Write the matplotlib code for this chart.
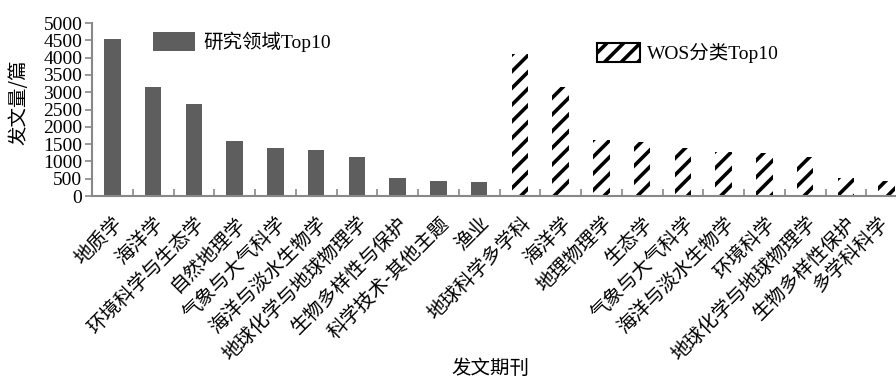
import numpy as np
import matplotlib
matplotlib.use('Agg')
import matplotlib.pyplot as plt
import matplotlib.transforms as mtransforms
from matplotlib.patches import Patch

plt.rcParams['font.family'] = ['Liberation Serif', 'Noto Sans CJK SC']
plt.rcParams['hatch.linewidth'] = 2.6
plt.rcParams['axes.unicode_minus'] = False

# 研究领域 Top10
field_names = ['地质学', '海洋学', '环境科学与生态学', '自然地理学', '气象与大气科学',
               '海洋与淡水生物学', '地球化学与地球物理学', '生物多样性与保护',
               '科学技术-其他主题', '渔业']
field_counts = [4530, 3140, 2660, 1600, 1380, 1340, 1130, 530, 440, 410]

# WOS 分类 Top10
wos_names = ['地球科学多学科', '海洋学', '地理物理学', '生态学', '气象与大气科学',
             '海洋与淡水生物学', '环境科学', '地球化学与地球物理学', '生物多样性保护',
             '多学科科学']
wos_counts = [4100, 3140, 1610, 1550, 1380, 1260, 1230, 1130, 510, 440]

yticks = [0, 500, 1000, 1500, 2000, 2500, 3000, 3500, 4000, 4500, 5000]

W, H = 896, 380
fig = plt.figure(figsize=(W / 100, H / 100), dpi=100)
ax = fig.add_axes([92 / W, 1 - 196 / H, 815 / W, 173 / H])

n1 = len(field_names)
n2 = len(wos_names)
x1 = np.arange(n1)
x2 = np.arange(n1, n1 + n2)

gray = '#5e5e5e'
ax.bar(x1, field_counts, width=0.4, color=gray, linewidth=0)
ax.bar(x2, wos_counts, width=0.4, color='white', edgecolor='black',
       linewidth=0, hatch='//')

ax.set_xlim(-0.5, n1 + n2 - 0.5)
ax.set_ylim(0, 5000)
ax.set_yticks(yticks)
ax.set_yticklabels([str(v) for v in yticks], fontsize=14)

ax.set_xticks(np.arange(n1 + n2))
ax.set_xticklabels(field_names + wos_names, fontsize=14, rotation=45,
                   ha='right', va='top', rotation_mode='anchor',
                   family=['Noto Sans CJK SC', 'DejaVu Sans'])
ax.set_xticks(np.arange(n1 + n2 - 1) + 0.5, minor=True)
ax.tick_params(axis='x', which='major', length=0, pad=12)
ax.tick_params(axis='x', which='minor', direction='in', length=5,
               color='#888888', width=1.2)
ax.tick_params(axis='y', direction='out', length=5, color='#888888',
               width=1.2, pad=2)

# 最后一个标签贴着右边缘，稍微左移
last = ax.get_xticklabels()[-1]
last.set_transform(last.get_transform() +
                   mtransforms.ScaledTranslation(-9 / 100, 0, fig.dpi_scale_trans))

for s in ['top', 'right']:
    ax.spines[s].set_visible(False)
for s in ['left', 'bottom']:
    ax.spines[s].set_color('#888888')
    ax.spines[s].set_linewidth(1.5)

ax.set_ylabel('发文量/篇', fontsize=14, family=['Noto Sans CJK SC', 'DejaVu Sans'])
ax.yaxis.set_label_coords((29 - 92) / 815, 0.54)

fig.text(490 / W, 1 - 368 / H, '发文期刊', fontsize=14, ha='center', va='center',
         family=['Noto Sans CJK SC', 'DejaVu Sans'])

h1 = Patch(facecolor=gray, linewidth=0)
h2 = Patch(facecolor='white', edgecolor='black', linewidth=1.5, hatch='//')
fig.legend([h1], ['研究领域Top10'], loc='center left',
           bbox_to_anchor=(143 / W, 1 - 42 / H), frameon=False, fontsize=14,
           borderpad=0, handlelength=2.15, handleheight=1.1, handletextpad=0.45)
fig.legend([h2], ['WOS分类Top10'], loc='center left',
           bbox_to_anchor=(587 / W, 1 - 53 / H), frameon=False, fontsize=14,
           borderpad=0, handlelength=2.2, handleheight=1.1, handletextpad=0.4)

fig.savefig('out.png', dpi=100)
